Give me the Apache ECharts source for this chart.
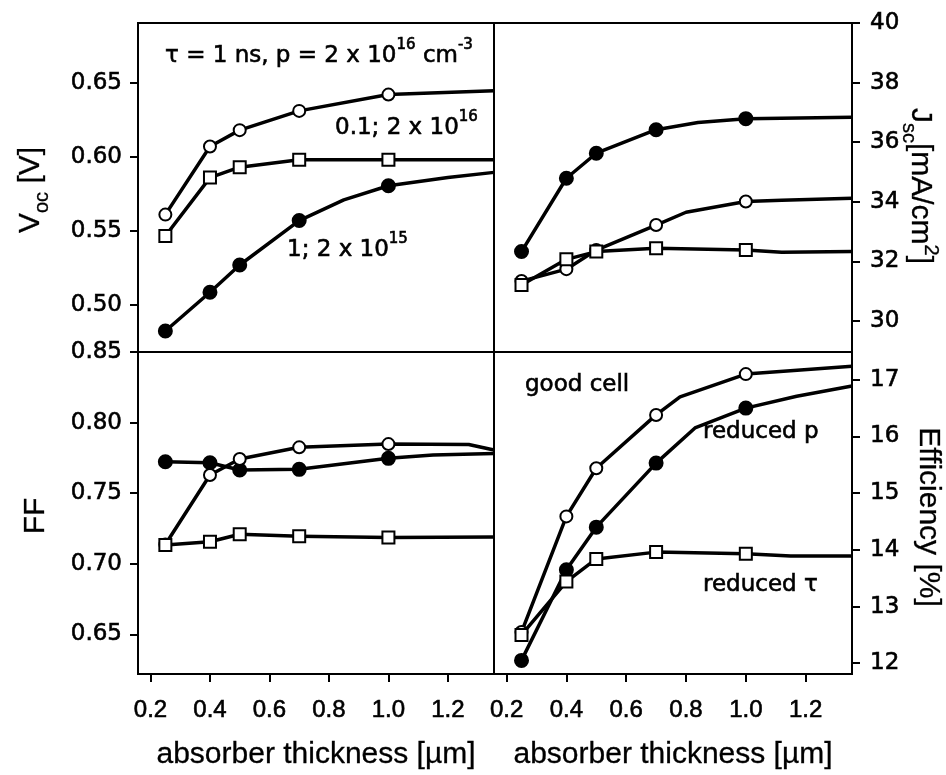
<!DOCTYPE html>
<html><head><meta charset="utf-8">
<script src="https://cdn.jsdelivr.net/npm/echarts@6/dist/echarts.min.js"></script>
<style>html,body{margin:0;padding:0;background:#fff}#c{width:946px;height:775px}</style>
</head><body><div id="c"></div>
<script>
// ---------- data ----------
const markedThickness = [0.25, 0.4, 0.5, 0.7, 1.0];
const xTicks = [0.2, 0.4, 0.6, 0.8, 1.0, 1.2];
const vocTicks = [0.50, 0.55, 0.60, 0.65];
const ffTicks = [0.65, 0.70, 0.75, 0.80, 0.85];
const jscTicks = [30, 32, 34, 36, 38, 40];
const effTicks = [12, 13, 14, 15, 16, 17];

// Voc [V]
const vocGood    = [[0.25,0.561],[0.4,0.607],[0.5,0.618],[0.7,0.631],[1.0,0.642],[1.355,0.6446]];
const vocRedTau  = [[0.25,0.5466],[0.4,0.586],[0.5,0.593],[0.7,0.598],[1.0,0.598],[1.355,0.598]];
const vocRedP    = [[0.25,0.4825],[0.4,0.5086],[0.5,0.527],[0.7,0.557],[0.85,0.571],[1.0,0.5805],[1.2,0.586],[1.355,0.5895]];
// Jsc [mA/cm2]
const jscGood    = [[0.25,31.34],[0.4,31.74],[0.5,32.38],[0.7,33.22],[0.8,33.65],[1.0,34.01],[1.12,34.05],[1.355,34.12]];
const jscRedTau  = [[0.25,31.21],[0.4,32.07],[0.5,32.33],[0.7,32.44],[1.0,32.38],[1.12,32.31],[1.355,32.33]];
const jscRedP    = [[0.25,32.33],[0.4,34.79],[0.5,35.63],[0.7,36.42],[0.84,36.66],[1.0,36.79],[1.355,36.84]];
// FF
const ffGood     = [[0.25,0.7137],[0.4,0.7629],[0.5,0.7742],[0.7,0.7825],[1.0,0.7848],[1.27,0.7845],[1.355,0.7806]];
const ffRedTau   = [[0.25,0.7133],[0.4,0.7156],[0.5,0.721],[0.7,0.7196],[1.0,0.7187],[1.355,0.719]];
const ffRedP     = [[0.25,0.7723],[0.4,0.7716],[0.5,0.7664],[0.7,0.7669],[1.0,0.7747],[1.15,0.777],[1.355,0.7782]];
// Efficiency [%]
const effGood    = [[0.25,12.55],[0.4,14.59],[0.5,15.44],[0.7,16.38],[0.78,16.70],[1.0,17.10],[1.355,17.24]];
const effRedTau  = [[0.25,12.50],[0.4,13.44],[0.5,13.84],[0.7,13.96],[1.0,13.93],[1.15,13.89],[1.355,13.89]];
const effRedP    = [[0.25,12.05],[0.4,13.65],[0.5,14.40],[0.7,15.53],[0.83,16.15],[1.0,16.50],[1.17,16.71],[1.355,16.89]];

// ---------- layout ----------
const X0 = 138, XM = 494, X1 = 852, Y0 = 23, YM = 352, Y1 = 674;
const grids = [
  {left: X0, top: Y0, width: XM - X0, height: YM - Y0},
  {left: XM, top: Y0, width: X1 - XM, height: YM - Y0},
  {left: X0, top: YM, width: XM - X0, height: Y1 - YM},
  {left: XM, top: YM, width: X1 - XM, height: Y1 - YM}
].map(g => Object.assign(g, {show: true, borderColor: '#000', borderWidth: 2, backgroundColor: 'transparent'}));

const ARIAL = 'Liberation Sans, Arial, sans-serif';
const DEJAVU = 'DejaVu Sans, sans-serif';
const thick = {textBorderColor: '#000', textBorderWidth: 0.6};
const gThick = {fill: '#000', stroke: '#000', lineWidth: 0.6};

function xAxis(i, bottom) {
  return {
    type: 'value', gridIndex: i, min: 0.158, max: 1.355,
    axisLine: {show: true, lineStyle: {color: '#000', width: 2}},
    splitLine: {show: false},
    axisTick: {show: bottom, customValues: xTicks, length: 8, inside: false, lineStyle: {color: '#000', width: 2}},
    axisLabel: Object.assign({show: bottom, customValues: xTicks, formatter: v => v.toFixed(1), fontSize: 24, fontFamily: ARIAL, color: '#000', margin: 24}, thick),
    name: bottom ? 'absorber thickness [µm]' : '',
    nameLocation: 'middle', nameGap: 66,
    nameTextStyle: {fontSize: 30, fontFamily: ARIAL, color: '#000', textBorderColor: '#000', textBorderWidth: 0.3}
  };
}
function yAxis(i, min, max, ticks, pos, dec) {
  return {
    type: 'value', gridIndex: i, min: min, max: max, position: pos,
    axisLine: {show: true, lineStyle: {color: '#000', width: 2}},
    splitLine: {show: false},
    axisTick: {show: true, customValues: ticks, length: 8, inside: false, lineStyle: {color: '#000', width: 2}},
    axisLabel: Object.assign({show: true, customValues: ticks, formatter: v => v.toFixed(dec), fontSize: 23, fontFamily: DEJAVU, color: '#000', margin: pos === 'left' ? 16 : 18}, thick)
  };
}

function series(data, kind, gi, z) {
  return {
    type: 'line', xAxisIndex: gi, yAxisIndex: gi, z: z,
    data: data.map(p => markedThickness.includes(p[0]) ? {value: p} : {value: p, symbol: 'none'}),
    symbol: kind === 'square' ? 'rect' : 'circle',
    symbolSize: kind === 'square' ? 12 : (kind === 'filled' ? 13 : 12),
    showAllSymbol: true,
    smooth: false,
    lineStyle: {color: '#000', width: 3.5, join: 'round'},
    itemStyle: {color: kind === 'filled' ? '#000' : '#fff', borderColor: '#000', borderWidth: 2, opacity: 1},
    emphasis: {disabled: true},
    silent: true, animation: false
  };
}

const allSeries = [];
[[vocRedP, vocGood, vocRedTau], [jscRedP, jscGood, jscRedTau], [ffRedP, ffGood, ffRedTau], [effRedP, effGood, effRedTau]]
  .forEach((set, gi) => {
    allSeries.push(series(set[0], 'filled', gi, 2));
    allSeries.push(series(set[1], 'open', gi, 3));
    allSeries.push(series(set[2], 'square', gi, 4));
  });

const supRich = {
  b: Object.assign({fontSize: 23, fontFamily: DEJAVU, lineHeight: 23}, gThick),
  s: Object.assign({fontSize: 15, fontFamily: DEJAVU, lineHeight: 36, verticalAlign: 'top'}, gThick)
};
const tThick = {fill: '#000', stroke: '#000', lineWidth: 0.3};
const titleRich = {
  b: Object.assign({fontSize: 30, fontFamily: ARIAL, lineHeight: 30}, tThick),
  d: Object.assign({fontSize: 20, fontFamily: ARIAL, lineHeight: 42, verticalAlign: 'bottom'}, tThick),
  u: Object.assign({fontSize: 20, fontFamily: ARIAL, lineHeight: 42, verticalAlign: 'top'}, tThick)
};
function txt(x, y, text, rich, align, rot) {
  return {type: 'text', x: x, y: y, rotation: rot || 0, z: 100, silent: true,
    style: {text: text, rich: rich, align: align, verticalAlign: 'middle', fill: '#000'}};
}

const option = {
  backgroundColor: '#fff',
  animation: false,
  grid: grids,
  xAxis: [xAxis(0, false), xAxis(1, false), xAxis(2, true), xAxis(3, true)],
  yAxis: [
    yAxis(0, 0.4683, 0.6903, vocTicks, 'left', 2),
    yAxis(1, 28.96, 40, jscTicks, 'right', 0),
    yAxis(2, 0.622, 0.85, ffTicks, 'left', 2),
    yAxis(3, 11.81, 17.49, effTicks, 'right', 0)
  ],
  series: allSeries,
  graphic: [
    txt(165, 56, '{b|τ = 1 ns, p = 2 x 10}{s|16}{b| cm}{s|-3}', supRich, 'left'),
    txt(335, 128, '{b|0.1; 2 x 10}{s|16}', supRich, 'left'),
    txt(287, 250, '{b|1; 2 x 10}{s|15}', supRich, 'left'),
    txt(525, 385, '{b|good cell}', supRich, 'left'),
    txt(703, 432, '{b|reduced p}', supRich, 'left'),
    txt(703, 585, '{b|reduced τ}', supRich, 'left'),
    txt(31, 190, '{b|V}{d|oc}{b| [V]}', titleRich, 'center', Math.PI / 2),
    txt(36, 516, '{b|FF}', titleRich, 'center', Math.PI / 2),
    txt(920, 186, '{b|J}{d|sc}{b|[mA/cm}{u|2}{b|]}', titleRich, 'center', -Math.PI / 2),
    txt(928, 517, '{b|Efficiency [%]}', titleRich, 'center', -Math.PI / 2)
  ]
};

const chart = echarts.init(document.getElementById('c'), null, {renderer: 'canvas'});
chart.setOption(option);
</script>
</body></html>
